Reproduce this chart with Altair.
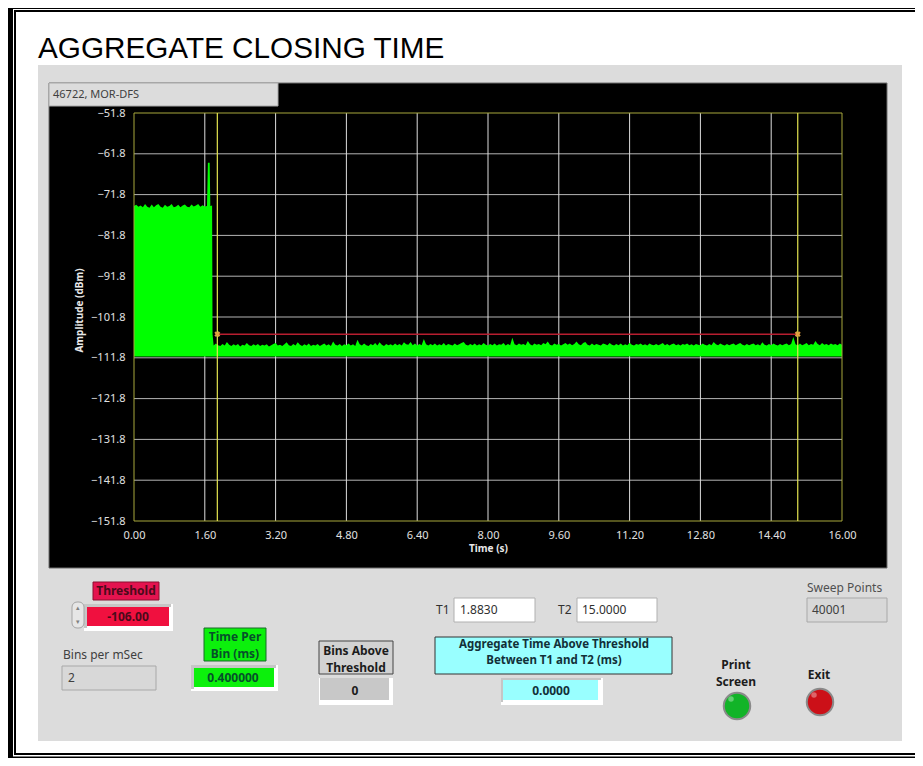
import altair as alt
import pandas as pd

# ---- values ----
TITLE = "AGGREGATE CLOSING TIME"
X_TICKS = [0.0, 1.6, 3.2, 4.8, 6.4, 8.0, 9.6, 11.2, 12.8, 14.4, 16.0]
Y_TICKS = [-51.8, -61.8, -71.8, -81.8, -91.8, -101.8, -111.8, -121.8, -131.8, -141.8, -151.8]
T1 = 1.883
T2 = 15.0
THRESHOLD = -106.0
FLOOR = -111.5

BURST_T = [0.0, 0.05, 0.1, 0.15, 0.2, 0.25, 0.3, 0.35, 0.4, 0.45, 0.5, 0.55, 0.6, 0.65, 0.7, 0.75, 0.8, 0.85,
           0.9, 0.95, 1.0, 1.05, 1.1, 1.15, 1.2, 1.25, 1.3, 1.35, 1.4, 1.45, 1.5, 1.55, 1.6, 1.65, 1.67, 1.71, 1.725,
           1.765, 1.775]
BURST_DB = [-74.6, -74.3, -74.8, -74.5, -74.9, -74.1, -74.8, -75.0, -74.2, -74.9, -74.4, -74.1, -74.8, -75.0,
            -74.3, -74.8, -74.6, -74.1, -74.9, -74.7, -74.3, -74.9, -74.5, -74.2, -74.8, -74.9, -74.2, -74.7,
            -74.5, -74.1, -74.8, -74.4, -74.7, -74.6, -64.0, -64.0, -74.6, -74.5, -106.0]

NOISE_DB = [
    -108.8, -108.3, -108.7, -108.9, -108.4, -108.8, -107.9, -108.6, -108.9, -108.5, -108.8, -108.4, -109.0, -108.6, -108.8, -108.2, -108.7, -108.9, -108.5, -108.8,
    -108.4, -108.9, -108.6, -108.8, -108.5, -109.0, -108.7, -108.4, -108.2, -108.8, -108.6, -108.9, -108.5, -108.0, -108.7, -108.9, -108.4, -108.8, -108.0, -108.6,
    -108.9, -108.5, -108.8, -108.3, -108.9, -108.6, -108.8, -108.4, -108.9, -108.6, -108.3, -108.8, -108.5, -108.9, -107.8, -108.6, -108.8, -108.4, -108.9, -108.5,
    -108.7, -108.3, -108.8, -108.5, -108.9, -107.4, -108.5, -108.8, -108.3, -108.7, -108.9, -108.4, -108.7, -108.2, -108.8, -108.0, -108.6, -108.9, -108.4, -108.7,
    -108.5, -108.8, -108.3, -108.7, -108.4, -108.8, -108.0, -108.5, -108.6, -107.9, -108.7, -108.3, -108.8, -108.4, -108.7, -107.2, -108.5, -108.8, -108.4, -108.7,
    -108.3, -108.8, -108.5, -108.7, -108.2, -108.8, -108.4, -108.6, -108.8, -108.3, -108.7, -108.5, -108.2, -107.9, -108.6, -108.8, -108.4, -108.7, -108.3, -108.8,
    -108.5, -108.7, -108.2, -108.6, -108.8, -108.4, -108.7, -108.3, -108.8, -108.5, -108.6, -108.2, -108.8, -108.4, -108.7, -106.9, -108.5, -108.7, -108.3, -108.6,
    -108.4, -108.7, -107.7, -108.5, -108.8, -108.3, -108.6, -108.4, -108.7, -108.2, -108.5, -107.8, -108.6, -108.8, -108.3, -108.6, -108.4, -108.8, -108.5, -108.2,
    -108.6, -108.3, -108.7, -108.4, -107.8, -108.5, -108.7, -108.2, -107.9, -108.6, -108.8, -108.3, -108.7, -108.4, -108.6, -108.8, -108.3, -108.5, -108.7, -108.2,
    -108.6, -108.8, -108.4, -108.7, -108.3, -108.8, -108.5, -108.7, -108.1, -108.6, -108.8, -108.4, -108.6, -108.3, -108.7, -108.5, -108.8, -108.3, -108.6, -108.7,
    -108.4, -108.7, -108.5, -108.2, -108.7, -108.4, -108.8, -108.5, -108.3, -108.7, -108.5, -108.8, -108.4, -108.6, -108.3, -108.7, -108.5, -108.8, -108.4, -108.6,
    -108.7, -108.3, -108.6, -108.8, -108.4, -108.7, -107.9, -108.5, -108.7, -108.3, -108.6, -108.8, -108.4, -108.7, -108.5, -108.3, -108.7, -108.4, -108.2, -108.6,
    -108.8, -108.4, -108.7, -108.5, -108.3, -108.7, -108.5, -108.8, -108.0, -108.6, -108.8, -108.4, -108.7, -108.3, -108.6, -108.8, -108.4, -108.7, -108.5, -108.3,
    -108.7, -108.4, -106.7, -108.5, -108.8, -108.3, -108.7, -108.5, -108.2, -108.7, -108.4, -108.6, -107.7, -108.4, -108.7, -108.2, -108.6, -108.4, -108.7, -108.3,
    -108.6, -108.4, -108.7, -108.3, -108.6,
]
NOISE_T = [round(1.8 + i * 0.05, 2) for i in range(len(NOISE_DB))]

# ---- layout: the plot's top-left corner on the page ----
OX, OY = 134, 113
PW, PH = 708, 408
TOTAL_W, TOTAL_H = 907, 750
RIGHT = 8 + TOTAL_W


def rx(v):
    return v - OX


def ry(v):
    return v - OY


one = pd.DataFrame({"k": [0]})
layers = []


def box(x0, y0, x1, y1, fill, stroke=None, sw=1, radius=0):
    kw = dict(fill=fill)
    if stroke:
        kw.update(stroke=stroke, strokeWidth=sw)
    else:
        kw.update(strokeWidth=0)
    if radius:
        kw.update(cornerRadius=radius)
    layers.append(alt.Chart(one).mark_rect(**kw).encode(
        x=alt.value(rx(x0)), x2=alt.value(rx(x1)), y=alt.value(ry(y0)), y2=alt.value(ry(y1))))


def sunken(x0, y0, x1, y1, fx0, fy0, fx1, fy1, fill):
    """A recessed indicator: white lower/right lip, grey upper/left shade, coloured face."""
    box(x0, y0, x1, y1, "#ffffff")
    box(x0, y0, x1 - 2, fy0, "#c6c6c6")
    box(x0, y0, fx0, fy1 + 2, "#c6c6c6")
    box(fx0, fy0, fx1, fy1, fill)


def label(s, x, y, size=12, bold=False, color="#303030", align="left", font="Noto Sans"):
    layers.append(alt.Chart(one).mark_text(
        text=s, fontSize=size, fontWeight="bold" if bold else "normal", color=color,
        align=align, baseline="middle", font=font).encode(x=alt.value(rx(x)), y=alt.value(ry(y))))


def led(x, y, fill):
    layers.append(alt.Chart(one).mark_point(
        filled=True, shape="circle", size=700, fill=fill, opacity=1, stroke="#8a8a8a", strokeWidth=2
    ).encode(x=alt.value(rx(x)), y=alt.value(ry(y))))
    layers.append(alt.Chart(one).mark_point(
        filled=True, shape="circle", size=30, fill="#ffffff", opacity=0.35, strokeWidth=0
    ).encode(x=alt.value(rx(x - 6)), y=alt.value(ry(y - 7))))


# page frame (the page margin keeps the outermost pixels out of reach)
box(8, 8, RIGHT, 9, "#000000")
box(14, 10, RIGHT, 12, "#000000")
box(8, 8, 13, 758, "#000000")
box(14, 10, 16, 755, "#000000")
box(14, 753, RIGHT, 755, "#000000")
box(8, 756.5, RIGHT, 758, "#000000")

label(TITLE, 38, 49, size=29.7, color="#000000", font="Liberation Sans")

# panel
box(38, 65, 902, 741, "#dcdcdc")
box(49, 83, 887, 568, "#000000", "#6e6e6e")
box(49, 83, 278, 106, "#dcdcdc", "#a8a8a8")
label("46722, MOR-DFS", 53, 95, size=11, color="#404040")

# threshold
box(93, 582, 159, 600, "#e4134f", "#8a1030")
label("Threshold", 126, 591, bold=True, color="#4a0a1a", align="center")
sunken(84, 604, 173, 631, 87, 607, 169, 626, "#f0103f")
label("-106.00", 128, 616.5, bold=True, color="#4a0a1a", align="center")
box(72, 602, 84, 628, "#e6e6e6", "#a5a5a5", radius=5)
label("▴", 78, 608, size=7, color="#808080", align="center")
label("▾", 78, 622, size=7, color="#808080", align="center")

# bins per msec
label("Bins per mSec", 63, 655, color="#404040")
box(62, 666, 156, 690, "#d8d8d8", "#a8a8a8")
label("2", 68, 678, color="#404040")

# time per bin
box(204, 628, 266, 661, "#0cf00c", "#1a6a2a")
label("Time Per", 235, 637, bold=True, color="#06502a", align="center")
label("Bin (ms)", 235, 654, bold=True, color="#06502a", align="center")
sunken(191, 665, 278, 691, 194, 668, 274, 687, "#0cf00c")
label("0.400000", 233, 678, bold=True, color="#06502a", align="center")

# bins above threshold
box(319, 641, 393, 674, "#d2d2d2", "#444444")
label("Bins Above", 356, 651, bold=True, color="#1c1c1c", align="center")
label("Threshold", 356, 668, bold=True, color="#1c1c1c", align="center")
box(319, 678, 393, 705, "#ffffff")
box(320, 678, 389, 700, "#c8c8c8")
label("0", 355, 691, bold=True, color="#1c1c1c", align="center")

# T1, T2
label("T1", 436, 610, color="#303030")
box(454, 598, 535, 622, "#ffffff", "#b0b0b0")
label("1.8830", 460, 610, color="#303030")
label("T2", 558, 610, color="#303030")
box(577, 598, 657, 622, "#ffffff", "#b0b0b0")
label("15.0000", 582, 610, color="#303030")

# aggregate
box(435, 637, 672, 674, "#99ffff", "#333333")
label("Aggregate Time Above Threshold", 554, 644.5, size=11.5, bold=True, color="#123038", align="center")
label("Between T1 and T2 (ms)", 554, 660.5, size=11.5, bold=True, color="#123038", align="center")
sunken(501, 678, 603, 705, 503, 680, 598, 700, "#99ffff")
label("0.0000", 551, 691, bold=True, color="#123038", align="center")

# sweep points
label("Sweep Points", 807, 588, color="#505050")
box(807, 598, 887, 622, "#d8d8d8", "#a8a8a8")
label("40001", 812, 610, color="#404040")

# buttons
label("Print", 736, 665, bold=True, color="#1c1c1c", align="center")
label("Screen", 736, 682, bold=True, color="#1c1c1c", align="center")
led(737, 706, "#12b428")
label("Exit", 819, 675, bold=True, color="#1c1c1c", align="center")
led(820, 702, "#cc1018")

# ---- scales and axes ----
xs = alt.Scale(domain=[0, 16], nice=False, zero=False)
ys = alt.Scale(domain=[-151.8, -51.8], nice=False, zero=False)
x_axis = alt.Axis(
    values=X_TICKS, format=".2f", title="Time (s)", grid=False, domain=False, ticks=False,
    labelColor="#e0e0e0", labelFont="Noto Sans", labelFontSize=11, labelPadding=8, labelFlush=False,
    labelOverlap=False, titleColor="#e8e8e8", titleFont="Noto Sans", titleFontSize=10,
    titleFontWeight="bold", titlePadding=3, zindex=1)
y_axis = alt.Axis(
    values=Y_TICKS, format=".1f", title="Amplitude (dBm)", grid=False, domain=False, ticks=False,
    labelColor="#e0e0e0", labelFont="Noto Sans", labelFontSize=11, labelPadding=9, labelFlush=False,
    labelOverlap=False, titleColor="#e8e8e8", titleFont="Noto Sans", titleFontSize=10,
    titleFontWeight="bold", titlePadding=6, titleY=197, zindex=1)


def X(f):
    return alt.X(f, scale=xs, axis=x_axis)


def Y(f):
    return alt.Y(f, scale=ys, axis=y_axis)


top, bottom = Y_TICKS[0], Y_TICKS[-1]

xgrid = pd.DataFrame({"t": X_TICKS[1:-1], "a": top, "b": bottom})
ygrid = pd.DataFrame({"v": Y_TICKS[1:-1], "a": 0.0, "b": 16.0})
layers.append(alt.Chart(ygrid).mark_rule(color="#b4b4b4", strokeWidth=1).encode(
    x=X("a:Q"), x2="b:Q", y=Y("v:Q")))
layers.append(alt.Chart(xgrid).mark_rule(color="#dddddd", strokeWidth=1).encode(
    x=X("t:Q"), y=Y("a:Q"), y2="b:Q"))

# trace
trace = pd.DataFrame({"t": BURST_T + NOISE_T, "db": BURST_DB + NOISE_DB, "floor": FLOOR})
layers.append(alt.Chart(trace).mark_area(color="#00ff00", opacity=1, strokeWidth=0).encode(
    x=X("t:Q"), y=Y("db:Q"), y2="floor:Q"))

# plot border
border = pd.DataFrame({"a": [0.0], "b": [16.0], "c": [bottom], "d": [top]})
layers.append(alt.Chart(border).mark_rect(fillOpacity=0, stroke="#a8a83c", strokeWidth=1).encode(
    x=X("a:Q"), x2="b:Q", y=Y("c:Q"), y2="d:Q"))

# cursors and threshold line
cursors = pd.DataFrame({"t": [T1, T2], "a": top, "b": bottom})
layers.append(alt.Chart(cursors).mark_rule(color="#e6e650", strokeWidth=1.2).encode(
    x=X("t:Q"), y=Y("a:Q"), y2="b:Q"))
thr = pd.DataFrame({"t": [T1], "t2": [T2], "v": [THRESHOLD]})
layers.append(alt.Chart(thr).mark_rule(color="#b81e30", strokeWidth=1.5).encode(
    x=X("t:Q"), x2="t2:Q", y=Y("v:Q")))
ends = pd.DataFrame({"t": [T1, T2], "v": [THRESHOLD, THRESHOLD]})
layers.append(alt.Chart(ends).mark_point(shape="cross", angle=45, size=36, filled=True, color="#e0a040", opacity=1).encode(
    x=X("t:Q"), y=Y("v:Q")))

chart = alt.layer(*layers).properties(
    width=PW, height=PH,
    autosize=alt.AutoSizeParams(type="none"),
    padding={"left": OX - 8, "top": OY - 8, "right": TOTAL_W - (OX - 8) - PW, "bottom": TOTAL_H - (OY - 8) - PH},
    background="#ffffff",
).configure_view(stroke=None)

chart.save("out.html", embed_options={"renderer": "svg", "actions": False})
